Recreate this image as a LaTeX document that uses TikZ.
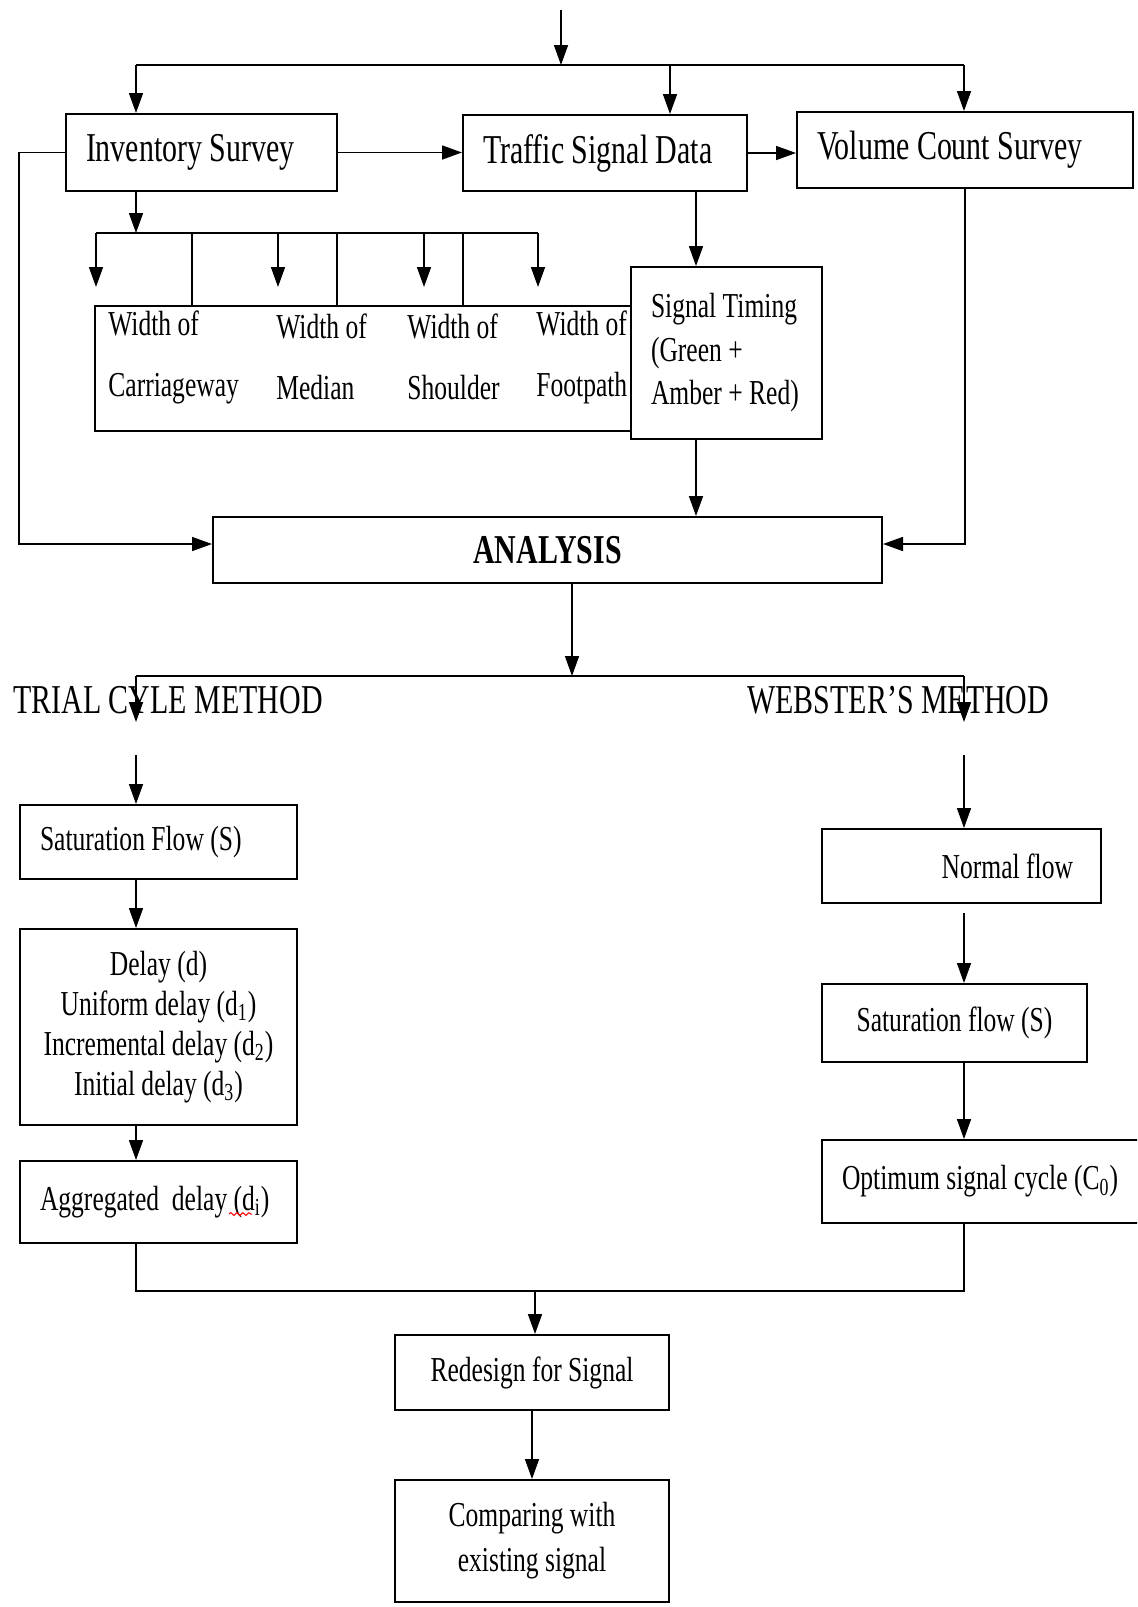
\documentclass[tikz,border=0pt]{standalone}
\usepackage{fontspec}
\setmainfont{Liberation Serif}[FakeStretch=0.73]
\usetikzlibrary{arrows.meta,positioning,decorations.pathmorphing}

\tikzset{
  box/.style={draw, line width=1pt, fill=white, inner xsep=10pt, inner ysep=0pt},
  bigtext/.style={font=\fontsize{20.5pt}{24pt}\selectfont},
  smalltext/.style={font=\fontsize{17.5pt}{20pt}\selectfont},
  wtext/.style={font=\fontsize{17.5pt}{30.5pt}\selectfont, align=flush left, anchor=west, inner sep=0pt},
  arr/.style={-{Triangle[length=10pt,width=7pt]}, line width=0.8pt},
  line/.style={line width=0.8pt},
}

\begin{document}
\begin{tikzpicture}[x=0.5pt, y=-0.5pt]
\useasboundingbox (0,0) rectangle (1137,1607);
\clip (0,0) rectangle (1137,1607);

% Rilievi
\node[box, bigtext, align=flush left, text width=115.5pt, minimum height=38.5pt] (inv) at (201.5,152.5) {Inventory Survey};
\node[box, bigtext, align=flush left, text width=122pt, minimum height=38pt] (tsd) at (605,153) {Traffic Signal Data};
\node[box, bigtext, align=flush left, text width=148pt, minimum height=38pt] (vol) at (965,150) {Volume Count Survey};

% Larghezze
\node[box, minimum width=268pt, minimum height=62.5pt, inner sep=0pt] (wbox) at (363,368.5) {};
\foreach \x/\w [count=\i] in {108/Carriageway, 276/Median, 407/Shoulder, 536/Footpath}
  \node[wtext] (w\i) at (\x,357) {Width of\\\w};
\node[box, font=\fontsize{17.5pt}{21.75pt}\selectfont, align=flush left, text width=75.5pt, minimum height=86pt] (sig) at (726.5,353) {Signal~Timing\\(Green~+\\Amber~+~Red)};

% Analisi
\node[box, font=\fontsize{20.5pt}{24pt}\selectfont\bfseries, minimum width=334.5pt, minimum height=33pt] (ana) at (547.5,550) {ANALYSIS};
\node[bigtext, anchor=west, inner sep=0pt] (trial) at (13,700) {TRIAL CYLE METHOD};
\node[bigtext, anchor=west, inner sep=0pt] (web) at (747,700) {WEBSTER’S METHOD};

% Metodo trial cycle
\node[box, smalltext, align=flush left, text width=118.5pt, minimum height=37pt] (satl) at (158.5,842) {Saturation Flow (S)};
\node[box, smalltext, align=flush center, text width=118.5pt, minimum height=98pt] (delay) at (158.5,1027)
  {Delay (d)\\Uniform delay (d\textsubscript{1})\\Incremental delay (d\textsubscript{2})\\Initial delay (d\textsubscript{3})};
\node[box, smalltext, align=flush left, text width=118.5pt, minimum height=41pt] (agg) at (158.5,1202) {Aggregated\ \ delay (d\textsubscript{i})};
\draw[red, line width=0.5pt, decorate, decoration={snake, amplitude=0.7pt, segment length=3pt}] (229,1214) -- (252,1214);

% Metodo di Webster
\node[box, smalltext, align=flush right, inner xsep=14pt, text width=111.5pt, minimum height=37pt] (nfl) at (961.5,866) {Normal flow};
\node[box, smalltext, align=flush center, text width=112.5pt, minimum height=39pt] (satr) at (954.5,1023) {Saturation flow (S)};
\node[box, smalltext, align=flush left, text width=140pt, minimum height=41.5pt] (opt) at (982,1181.5) {Optimum signal cycle (C\textsubscript{0})};

% Riprogettazione
\node[box, smalltext, align=center, minimum width=137pt, minimum height=37.5pt] (red) at (532,1372.5) {Redesign for Signal};
\node[box, font=\fontsize{17.5pt}{22.5pt}\selectfont, align=center, minimum width=137pt, minimum height=61pt] (cmp) at (532,1541) {Comparing with\\existing signal};

% Collegamenti in alto
\coordinate (in) at (561,10);
\coordinate (b1) at (136,65);
\coordinate (b2) at (670,65);
\coordinate (b3) at (964,65);
\draw[arr] (in) -- (in |- b1);
\draw[line] (b1) -- (b3);
\draw[arr] (b1) -- (b1 |- inv.north);
\draw[arr] (b2) -- (b2 |- tsd.north);
\draw[arr] (b3) -- (b3 |- vol.north);
\draw[arr] (inv.east) -- (inv.east -| tsd.west);
\draw[arr] (tsd.east) -- (tsd.east -| vol.west);

\coordinate (lft) at (19,544);
\draw[arr] (inv.west) -- (inv.west -| lft) -- (lft) -- (lft -| ana.west);
\draw[arr] (vol.south) -- (vol.south |- lft) -- (lft -| ana.east);

% Rami dell'inventario
\coordinate (c0) at (136,233);
\draw[arr] (c0 |- inv.south) -- (c0);
\draw[line] (96,233) -- (538,233);
\foreach \x in {96,278,424,538}
  \draw[arr] (\x,233) -- (\x,287);
\foreach \x in {192,337,463}
  \draw[line] (\x,233) -- (\x,233 |- wbox.north);

\coordinate (ts) at (696,0);
\draw[arr] (tsd.south -| ts) -- (sig.north -| ts);
\draw[arr] (sig.south -| ts) -- (ana.north -| ts);

% Scelta del metodo
\coordinate (m) at (572,676);
\coordinate (ml) at (136,676);
\coordinate (mr) at (964,676);
\draw[arr] (ana.south -| m) -- (m);
\draw[line] (ml) -- (mr);
\draw[arr] (ml) -- (136,722);
\draw[arr] (mr) -- (964,722);

\draw[arr] (136,755) -- (satl.north -| ml);
\draw[arr] (satl.south -| ml) -- (delay.north -| ml);
\draw[arr] (delay.south -| ml) -- (agg.north -| ml);
\draw[arr] (964,755) -- (nfl.north -| mr);
\draw[arr] (964,913) -- (satr.north -| mr);
\draw[arr] (satr.south -| mr) -- (opt.north -| mr);

% Chiusura
\coordinate (j) at (535,1291);
\draw[line] (agg.south -| ml) -- (ml |- j) -- (mr |- j) -- (opt.south -| mr);
\draw[arr] (j) -- (j |- red.north);
\draw[arr] (red.south) -- (cmp.north);

\end{tikzpicture}
\end{document}
